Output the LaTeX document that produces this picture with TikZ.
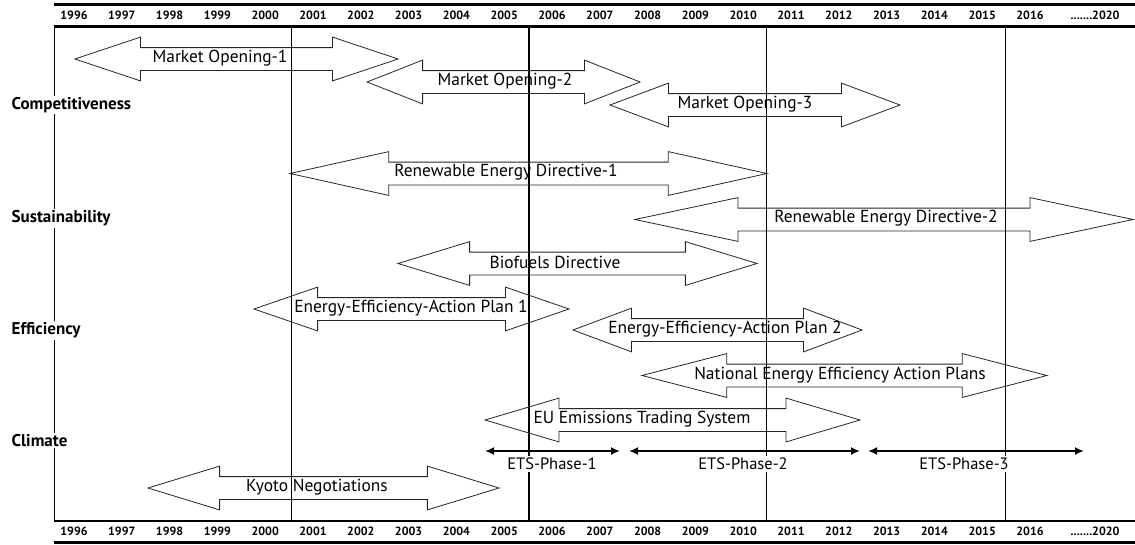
\documentclass[tikz,border=0pt]{standalone}
\usepackage{fontspec}
\setmainfont{PT Sans}
\usetikzlibrary{shapes.arrows,arrows.meta}

\begin{document}
\begin{tikzpicture}[x=1pt,y=-1pt,
    bigarrow/.style={double arrow, draw=black!85, line width=0.8pt, inner sep=0pt, inner ysep=11pt, double arrow head extend=10.5pt},
    arrowtext/.style={font=\fontsize{17.4}{19}\selectfont, inner sep=0pt},
    yearlabel/.style={font=\fontsize{12}{13}\selectfont\bfseries, inner sep=0pt},
    themelabel/.style={font=\fontsize{17}{19}\selectfont\bfseries, fill=white, inner sep=1.5pt, anchor=west},
    phaseline/.style={line width=2pt, {Latex[length=9pt,width=8pt]}-{Latex[length=9pt,width=8pt]}},
    phaselabel/.style={font=\fontsize{16.5}{18}\selectfont, fill=white, inner sep=2pt}
    ]
    \useasboundingbox (0,0) rectangle (1135,544);

    % frame and year rows
    \draw [line width=3pt] (54,4) -- (1135,4);
    \draw [line width=2.2pt] (54,26.5) -- (1135,26.5);
    \draw [line width=2.2pt] (54,521) -- (1135,521);
    \draw [line width=3pt] (54,542) -- (1135,542);
    \draw [line width=1.2pt] (54.5,26.5) -- (54.5,521);

    \foreach \i in {0,...,20} {
        \pgfmathtruncatemacro\yr{1996+\i}
        \node [yearlabel] (top\yr) at ({74+47.8*\i},15.5) {\yr};
        \node [yearlabel] (bot\yr) at ({74+47.8*\i},531) {\yr};
    }
    \node [yearlabel] (top2020) at (1095,15.5) {.......2020};
    \node [yearlabel] (bot2020) at (1095,531) {.......2020};

    % period lines
    \draw [line width=0.9pt] (291,27) -- (291,521);
    \draw [line width=2pt] (528.5,27) -- (528.5,521);
    \draw [line width=0.9pt] (766.5,27) -- (766.5,521);
    \draw [line width=0.9pt] (1005,27) -- (1005,521);

    % themes
    \node [themelabel] (comp) at (10,105) {Competitiveness};
    \node [themelabel] (sust) at (10,218.5) {Sustainability};
    \node [themelabel] (effi) at (10,330.5) {Efficiency};
    \node [themelabel] (clim) at (10,440.5) {Climate};

    % policy arrows
    \node [bigarrow, minimum height=323pt, double arrow tip angle=37] (mo1) at (236.5,59) {};
    \node [arrowtext] (mo1t) at (220,58) {Market Opening-1};
    \node [bigarrow, minimum height=273pt, double arrow tip angle=43] (mo2) at (503.5,82) {};
    \node [arrowtext] (mo2t) at (505,81) {Market Opening-2};
    \node [bigarrow, minimum height=290pt, double arrow tip angle=41] (mo3) at (755,105) {};
    \node [arrowtext] (mo3t) at (745,104) {Market Opening-3};

    \node [bigarrow, minimum height=477pt, double arrow tip angle=25] (red1) at (528.5,173.5) {};
    \node [arrowtext] (red1t) at (506,172) {Renewable Energy Directive-1};
    \node [bigarrow, minimum height=498pt, double arrow tip angle=24] (red2) at (884,219.5) {};
    \node [arrowtext] (red2t) at (886,218) {Renewable Energy Directive-2};
    \node [bigarrow, minimum height=359pt, double arrow tip angle=34] (bio) at (577.5,263.5) {};
    \node [arrowtext] (biot) at (555,262.5) {Biofuels Directive};

    \node [bigarrow, minimum height=315pt, double arrow tip angle=38] (eeap1) at (411.5,309) {};
    \node [arrowtext] (eeap1t) at (411,308) {Energy-Efficiency-Action Plan 1};
    \node [bigarrow, minimum height=289pt, double arrow tip angle=41] (eeap2) at (717.5,330) {};
    \node [arrowtext] (eeap2t) at (725,329.5) {Energy-Efficiency-Action Plan 2};
    \node [bigarrow, minimum height=405pt, double arrow tip angle=29] (neeap) at (844.5,375.5) {};
    \node [arrowtext] (neeapt) at (840,375) {National Energy Efficiency Action Plans};

    \node [bigarrow, minimum height=375pt, double arrow tip angle=33] (ets) at (672.5,420) {};
    \node [arrowtext] (etst) at (642,419) {EU Emissions Trading System};
    \node [bigarrow, minimum height=351pt, double arrow tip angle=34] (kyoto) at (323.5,488) {};
    \node [arrowtext] (kyotot) at (317,487.5) {Kyoto Negotiations};

    % ETS phases
    \coordinate (ph1w) at (485,451);
    \coordinate (ph1e) at (620,451);
    \coordinate (ph2w) at (629,451);
    \coordinate (ph2e) at (860,451);
    \coordinate (ph3w) at (868,451);
    \coordinate (ph3e) at (1084,451);
    \node [phaselabel] (ph1) at (552,464) {ETS-Phase-1};
    \node [phaselabel] (ph2) at (743,464) {ETS-Phase-2};
    \node [phaselabel] (ph3) at (964,464) {ETS-Phase-3};
    \draw [phaseline] (ph1w) -- (ph1e);
    \draw [phaseline] (ph2w) -- (ph2e);
    \draw [phaseline] (ph3w) -- (ph3e);
\end{tikzpicture}
\end{document}
